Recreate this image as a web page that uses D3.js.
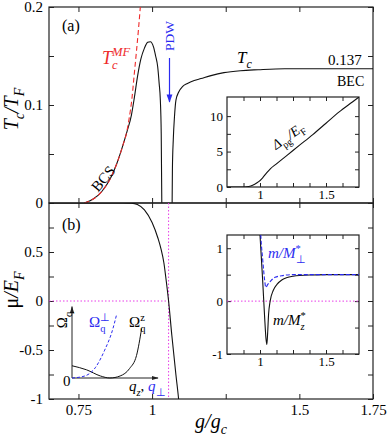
<!DOCTYPE html>
<html>
<head>
<meta charset="utf-8">
<script src="https://cdn.jsdelivr.net/npm/d3@7"></script>
<style>
  body { margin: 0; background: #fff; }
  svg { display: block; font-family: "Liberation Serif", "Times New Roman", serif; }
  .tick text { font-family: "Liberation Serif", "Times New Roman", serif; }
</style>
</head>
<body>
<script>
// panel (a): Tc/TF vs g/gc
const tcLeft = [[0.77,0],[0.80,0.004],[0.83,0.012],[0.86,0.026],[0.88,0.04],[0.90,0.058],[0.915,0.073],
  [0.93,0.09],[0.94,0.108],[0.951,0.13],[0.962,0.147],[0.974,0.158],[0.985,0.164],[0.994,0.1646],
  [1.005,0.159],[1.012,0.15],[1.019,0.139],[1.024,0.122],[1.028,0.105],[1.031,0.071],[1.033,0]];
const tcRight = [[1.068,0],[1.069,0.035],[1.072,0.065],[1.076,0.088],[1.081,0.105],[1.09,0.113],
  [1.104,0.119],[1.12,0.122],[1.143,0.125],[1.166,0.127],[1.2,0.13],[1.244,0.133],[1.3,0.135],
  [1.36,0.136],[1.45,0.137],[1.75,0.137]];
const tcMF = [[0.77,0],[0.80,0.004],[0.83,0.012],[0.86,0.026],[0.88,0.04],[0.90,0.058],[0.915,0.074],
  [0.923,0.088],[0.931,0.105],[0.939,0.13],[0.947,0.155],[0.954,0.178],[0.96,0.2],[0.965,0.22]];
const gPDW = 1.056;

// inset: pseudogap
const dpg = [[0.75,0],[0.87,0],[0.9,0.03],[0.93,0.15],[0.96,0.4],[0.99,0.75],[1.02,1.3],[1.05,2.0],
  [1.08,2.6],[1.12,3.2],[1.2,4.4],[1.3,5.9],[1.4,7.4],[1.5,9.0],[1.6,10.6],[1.7,12.0],[1.75,12.7]];

// panel (b): mu/EF
const mu = [[0.65,1],[0.9,1],[0.93,0.998],[0.95,0.985],[0.974,0.93],[1.0,0.8],[1.02,0.64],[1.03,0.535],
  [1.04,0.39],[1.047,0.23],[1.056,0],[1.067,-0.35],[1.081,-0.755],[1.09,-1],[1.093,-1.1]];

// inset: inverse pair masses
const mz = [[0.99,1.6],[1.0,1.25],[1.02,0.4],[1.035,-0.3],[1.045,-0.7],[1.052,-0.82],[1.058,-0.6],
  [1.065,-0.25],[1.077,0],[1.1,0.2],[1.13,0.32],[1.165,0.4],[1.2,0.44],[1.25,0.47],[1.3,0.485],
  [1.4,0.495],[1.5,0.5],[1.75,0.5]];
const mperp = [[1.0,1.6],[1.006,1.25],[1.02,0.8],[1.035,0.4],[1.044,0.26],[1.06,0.32],[1.077,0.37],
  [1.114,0.45],[1.165,0.48],[1.24,0.5],[1.75,0.5]];

// inset: dispersions
const omZ = [[0,0.18],[0.17,0.12],[0.33,0.03],[0.44,0],[0.56,0.03],[0.67,0.14],[0.75,0.33],[0.81,0.73]];
const omPerp = [[0,0],[0.15,0.03],[0.27,0.15],[0.38,0.41],[0.47,0.7],[0.52,0.94]];

const mainTicksX = [0.75, 1, 1.25, 1.5, 1.75];
const mainLabelsX = [0.75, 1, 1.5, 1.75];
const ticksA = [0, 0.05, 0.1, 0.15, 0.2], labelsA = [0, 0.1, 0.2];
const ticksB = [-1, -0.75, -0.5, -0.25, 0, 0.25, 0.5, 0.75, 1], labelsB = [-1, -0.5, 0, 0.5];
const insTicksX = [0.875, 1, 1.125, 1.25, 1.375, 1.5, 1.625], insLabelsX = [1, 1.5];
const insTicksA = [0, 2.5, 5, 7.5, 10], insLabelsA = [0, 5, 10];
const insTicksB = [-1, -0.5, 0, 0.5, 1], insLabelsB = [-1, 0, 1];

const W = 388, H = 438;
const blue = "#2b2bf0", red = "#ee2a2a", pink = "#e83ce8";

const svg = d3.select("body").append("svg").attr("width", W).attr("height", H);

const x = d3.scaleLinear([0.65, 1.75], [49, 373]);
const ya = d3.scaleLinear([0, 0.2], [203, 7]);
const yb = d3.scaleLinear([-1, 1], [399, 203]);

const fmt = v => String(v);
const only = list => d => list.includes(d) ? fmt(d) : "";

const defs = svg.append("defs");
function clip(id, x0, y0, x1, y1) {
  defs.append("clipPath").attr("id", id).append("rect")
    .attr("x", x0).attr("y", y0).attr("width", x1 - x0).attr("height", y1 - y0);
  return `url(#${id})`;
}
defs.append("marker").attr("id", "ahb").attr("viewBox", "0 0 10 10").attr("refX", 9).attr("refY", 5)
    .attr("markerWidth", 7).attr("markerHeight", 7).attr("orient", "auto")
  .append("path").attr("d", "M0,1.5L10,5L0,8.5z").attr("fill", blue);
defs.append("marker").attr("id", "ahk").attr("viewBox", "0 0 10 10").attr("refX", 9).attr("refY", 5)
    .attr("markerWidth", 7).attr("markerHeight", 7).attr("orient", "auto")
  .append("path").attr("d", "M0,2L10,5L0,8z").attr("fill", "#222");

// rich text: parts are {s, i, sub, sup, c, back}
function rich(g, px, py, fs, parts, o = {}) {
  const t = g.append("text").attr("x", px).attr("y", py).attr("font-size", fs)
    .attr("fill", o.fill || "#000").attr("text-anchor", o.anchor || "start");
  if (o.rotate) t.attr("transform", `rotate(${o.rotate},${px},${py})`);
  let cur = 0, lastW = 0;
  parts.forEach(p => {
    const target = p.sub ? 0.3 * fs : p.sup ? -0.42 * fs : 0;
    const ts = t.append("tspan").text(p.s).attr("dy", target - cur);
    cur = target;
    if (p.sub || p.sup) ts.attr("font-size", (p.fs || 0.7) * fs);
    if (p.i) ts.attr("font-style", "italic");
    if (p.c) ts.attr("fill", p.c);
    if (p.back) ts.attr("dx", -lastW);
    lastW = ts.node().getComputedTextLength();
  });
  return t;
}

function axesFor(g, xs, ys, tx, lx, ty, ly, x0, x1, y0, y1, len, fs, pad) {
  g.append("g").attr("transform", `translate(0,${y1})`)
    .call(d3.axisBottom(xs).tickValues(tx).tickFormat(lx ? only(lx) : () => "").tickSize(-len).tickPadding(pad));
  g.append("g").attr("transform", `translate(0,${y0})`)
    .call(d3.axisTop(xs).tickValues(tx).tickFormat(() => "").tickSize(-len));
  g.append("g").attr("transform", `translate(${x0},0)`)
    .call(d3.axisLeft(ys).tickValues(ty).tickFormat(ly ? only(ly) : () => "").tickSize(-len).tickPadding(pad + 1));
  g.append("g").attr("transform", `translate(${x1},0)`)
    .call(d3.axisRight(ys).tickValues(ty).tickFormat(() => "").tickSize(-len));
  g.selectAll(".domain").remove();
  g.selectAll(".tick line").attr("stroke", "#222");
  g.selectAll(".tick text").attr("font-size", fs).attr("fill", "#000");
  g.append("rect").attr("x", x0).attr("y", y0).attr("width", x1 - x0).attr("height", y1 - y0)
    .attr("fill", "none").attr("stroke", "#222").attr("stroke-width", 1.2);
}

// ----- panel (a)
const ga = svg.append("g");
axesFor(ga, x, ya, mainTicksX, null, ticksA, labelsA, 49, 373, 7, 203, 5, 15, 5);
const clipA = clip("ca", 49, 7, 373, 203);
const lineA = d3.line().x(d => x(d[0])).y(d => ya(d[1])).curve(d3.curveMonotoneX);
const pa = ga.append("g").attr("clip-path", clipA).attr("fill", "none");
pa.append("path").attr("d", lineA(tcLeft)).attr("stroke", "#111").attr("stroke-width", 1.1);
pa.append("path").attr("d", lineA(tcRight)).attr("stroke", "#111").attr("stroke-width", 1.1);
pa.append("path").attr("d", lineA(tcMF)).attr("stroke", red).attr("stroke-width", 1.1).attr("stroke-dasharray", "5,3");

rich(ga, 62, 31, 16, [{s: "(a)"}]);
rich(ga, 102, 64, 18, [{s: "T", i: 1, c: red}, {s: "c", i: 1, sub: 1, c: red}, {s: "MF", i: 1, sup: 1, back: 1, c: red}]);
rich(ga, 237, 63, 17, [{s: "T", i: 1}, {s: "c", i: 1, sub: 1}]);
ga.append("text").attr("x", 328).attr("y", 65).attr("font-size", 15).text("0.137");
ga.append("text").attr("x", 337).attr("y", 86).attr("font-size", 14).text("BEC");
ga.append("text").attr("transform", "translate(107,182) rotate(-50)").attr("font-size", 15)
  .attr("text-anchor", "middle").text("BCS");
ga.append("text").attr("transform", "translate(174,36) rotate(-90)").attr("font-size", 13.5)
  .attr("text-anchor", "middle").attr("fill", blue).text("PDW");
ga.append("line").attr("x1", 169.5).attr("x2", 169.5).attr("y1", 58).attr("y2", 102)
  .attr("stroke", blue).attr("stroke-width", 1.2).attr("marker-end", "url(#ahb)");

// inset (a): pseudogap
const xi = d3.scaleLinear([0.75, 1.75], [227, 359]);
const yia = d3.scaleLinear([0, 12.7], [187, 97]);
const gia = svg.append("g");
gia.append("rect").attr("x", 227).attr("y", 97).attr("width", 132).attr("height", 90).attr("fill", "#fff");
axesFor(gia, xi, yia, insTicksX, insLabelsX, insTicksA, insLabelsA, 227, 359, 97, 187, 4, 13, 3);
const clipIA = clip("cia", 227, 97, 359, 187);
gia.append("path").attr("clip-path", clipIA).attr("fill", "none").attr("stroke", "#111").attr("stroke-width", 1.1)
  .attr("d", d3.line().x(d => xi(d[0])).y(d => yia(d[1])).curve(d3.curveMonotoneX)(dpg));
rich(gia, 276, 150, 14, [{s: "Δ", i: 1}, {s: "pg", sub: 1}, {s: "/E", i: 1}, {s: "F", sub: 1}], {rotate: -35});

// ----- panel (b)
const gb = svg.append("g");
axesFor(gb, x, yb, mainTicksX, mainLabelsX, ticksB, labelsB, 49, 373, 203, 399, 5, 15, 5);
const clipB = clip("cb", 49, 203, 373, 399);
const pb = gb.append("g").attr("clip-path", clipB).attr("fill", "none");
pb.append("line").attr("x1", x(gPDW)).attr("x2", x(gPDW)).attr("y1", yb(1)).attr("y2", yb(-1))
  .attr("stroke", pink).attr("stroke-width", 1).attr("stroke-dasharray", "1.5,2");
pb.append("line").attr("x1", x(0.65)).attr("x2", x(gPDW)).attr("y1", yb(0)).attr("y2", yb(0))
  .attr("stroke", pink).attr("stroke-width", 1).attr("stroke-dasharray", "1.5,2");
pb.append("path").attr("stroke", "#111").attr("stroke-width", 1.1)
  .attr("d", d3.line().x(d => x(d[0])).y(d => yb(d[1])).curve(d3.curveMonotoneX)(mu));
rich(gb, 62, 230, 16, [{s: "(b)"}]);

// inset (b): masses
const yib = d3.scaleLinear([-1, 1.25], [354, 235]);
const gib = svg.append("g");
gib.append("rect").attr("x", 227).attr("y", 235).attr("width", 132).attr("height", 119).attr("fill", "#fff");
axesFor(gib, xi, yib, insTicksX, insLabelsX, insTicksB, insLabelsB, 227, 359, 235, 354, 4, 13, 3);
const clipIB = clip("cib", 227, 235, 359, 354);
const pib = gib.append("g").attr("clip-path", clipIB).attr("fill", "none");
pib.append("line").attr("x1", 227).attr("x2", 359).attr("y1", yib(0)).attr("y2", yib(0))
  .attr("stroke", pink).attr("stroke-width", 1).attr("stroke-dasharray", "1.5,2");
const lineIB = d3.line().x(d => xi(d[0])).y(d => yib(d[1])).curve(d3.curveMonotoneX);
pib.append("path").attr("d", lineIB(mz)).attr("stroke", "#111").attr("stroke-width", 1.1);
pib.append("path").attr("d", lineIB(mperp)).attr("stroke", blue).attr("stroke-width", 1.1).attr("stroke-dasharray", "4,2");
rich(gib, 268, 258, 15, [{s: "m/M", i: 1, c: blue}, {s: "⊥", sub: 1, c: blue}, {s: "*", sup: 1, back: 1, c: blue}]);
rich(gib, 273, 325, 15, [{s: "m/M", i: 1}, {s: "z", i: 1, sub: 1}, {s: "*", sup: 1, back: 1}]);

// inset (c): dispersions, axes only
const xc = d3.scaleLinear([0, 1], [72, 158]);
const yc = d3.scaleLinear([0, 1], [378, 310]);
const gic = svg.append("g");
gic.append("line").attr("x1", xc(0)).attr("y1", yc(0)).attr("x2", xc(0)).attr("y2", yc(1.05))
  .attr("stroke", "#222").attr("stroke-width", 1).attr("marker-end", "url(#ahk)");
gic.append("line").attr("x1", xc(0)).attr("y1", yc(0)).attr("x2", xc(1)).attr("y2", yc(0))
  .attr("stroke", "#222").attr("stroke-width", 1).attr("marker-end", "url(#ahk)");
const lineC = d3.line().x(d => xc(d[0])).y(d => yc(d[1])).curve(d3.curveMonotoneX);
gic.append("path").attr("d", lineC(omZ)).attr("fill", "none").attr("stroke", "#111").attr("stroke-width", 1);
gic.append("path").attr("d", lineC(omPerp)).attr("fill", "none").attr("stroke", blue).attr("stroke-width", 1)
  .attr("stroke-dasharray", "3,2");
rich(gic, 67, 320, 15, [{s: "Ω"}, {s: "q", sub: 1}], {rotate: -90, anchor: "middle"});
rich(gic, 89, 327, 15, [{s: "Ω", c: blue}, {s: "q", sub: 1, c: blue}, {s: "⊥", sup: 1, back: 1, c: blue}]);
rich(gic, 129, 327, 15, [{s: "Ω"}, {s: "q", sub: 1}, {s: "z", sup: 1, back: 1}]);
gic.append("text").attr("x", 63).attr("y", 386).attr("font-size", 15).text("0");
rich(gic, 129, 391, 15, [{s: "q", i: 1}, {s: "z", i: 1, sub: 1}, {s: ", "}, {s: "q", i: 1, c: blue}, {s: "⊥", sub: 1, c: blue}]);

// axis titles
rich(svg, 18, 109, 20, [{s: "T", i: 1}, {s: "c", i: 1, sub: 1}, {s: "/T", i: 1}, {s: "F", i: 1, sub: 1}], {rotate: -90, anchor: "middle"});
rich(svg, 18, 290, 20, [{s: "μ"}, {s: "/E", i: 1}, {s: "F", i: 1, sub: 1}], {rotate: -90, anchor: "middle"});
rich(svg, 211, 428, 20, [{s: "g/g", i: 1}, {s: "c", i: 1, sub: 1}], {anchor: "middle"});
</script>
</body>
</html>
